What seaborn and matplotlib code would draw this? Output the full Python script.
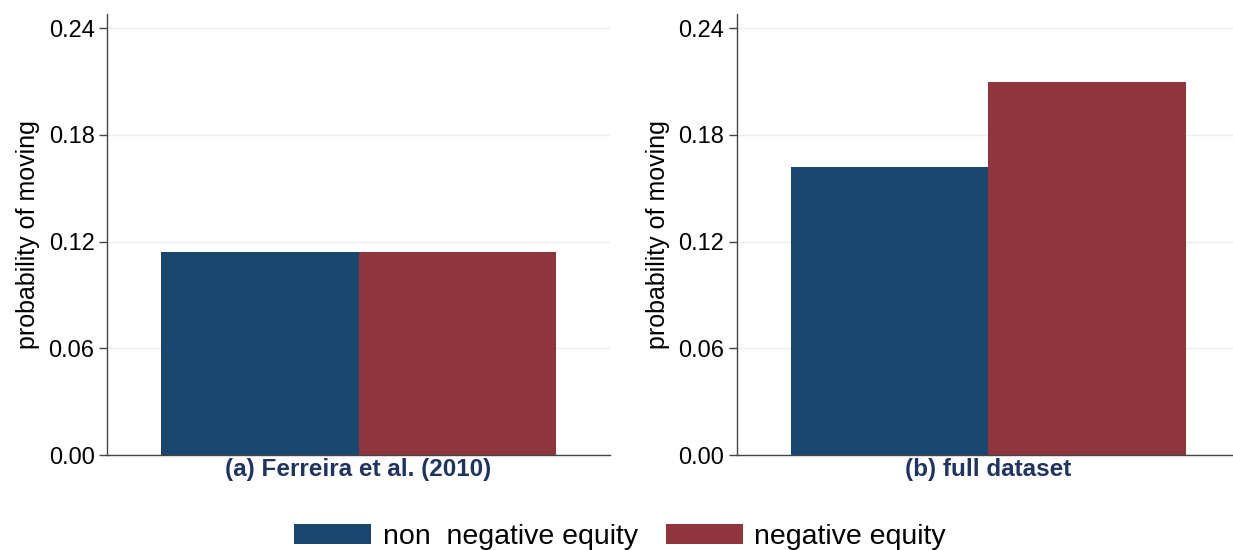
import pandas as pd
import seaborn as sb
import matplotlib.pyplot as plt

# данные с картинки
panels = ['(a) Ferreira et al. (2010)', '(b) full dataset']
groups = ['non  negative equity', 'negative equity']
non_neg = [0.114, 0.162]
neg = [0.114, 0.210]
yticks = [0.00, 0.06, 0.12, 0.18, 0.24]
colors = ['#1a476f', '#90353b']

df = pd.DataFrame({
    'panel': panels * 2,
    'group': [groups[0]] * 2 + [groups[1]] * 2,
    'prob': non_neg + neg,
})

sb.set_style('white')
plt.rcParams['font.family'] = ['Liberation Sans', 'DejaVu Sans']
plt.rcParams['text.color'] = 'black'

fig = plt.figure(figsize=(12.33, 5.5), dpi=100)
ax1 = fig.add_axes([0.0868, 0.1727, 0.408, 0.8018])
ax2 = fig.add_axes([0.5977, 0.1727, 0.408, 0.8018])

for ax, p in zip([ax1, ax2], panels):
    sb.barplot(data=df[df['panel'] == p], x='panel', y='prob', hue='group',
               hue_order=groups, palette=colors, saturation=1, linewidth=0,
               width=0.8, ax=ax)
    ax.set_xlim(-0.51, 0.51)
    ax.set_ylim(0, 0.248)
    ax.set_yticks(yticks)
    ax.set_yticklabels([f'{t:.2f}' for t in yticks], fontsize=17, color='black')
    ax.yaxis.grid(True, color='#eaf0f2', linewidth=1)
    ax.set_axisbelow(True)
    ax.set_xlabel('')
    ax.set_ylabel('probability of moving', fontsize=18, labelpad=6, color='black')
    ax.tick_params(axis='y', direction='out', length=6, width=1, color='#444444',
                   left=True, pad=3)
    ax.tick_params(axis='x', length=0, pad=2)
    for lab in ax.get_xticklabels():
        lab.set_fontsize(17.5)
        lab.set_fontweight('bold')
        lab.set_color('#1f3461')
    for s in ['top', 'right']:
        ax.spines[s].set_visible(False)
    for s in ['left', 'bottom']:
        ax.spines[s].set_color('#444444')
        ax.spines[s].set_linewidth(1)
    handles, labels = ax.get_legend_handles_labels()
    ax.get_legend().remove()

fig.legend(handles, labels, loc='center', bbox_to_anchor=(0.503, 0.024),
           ncol=2, frameon=False, fontsize=20.5, handlelength=2.7,
           handleheight=0.7, columnspacing=1.0, handletextpad=0.4)

plt.savefig('out.png', dpi=100)
